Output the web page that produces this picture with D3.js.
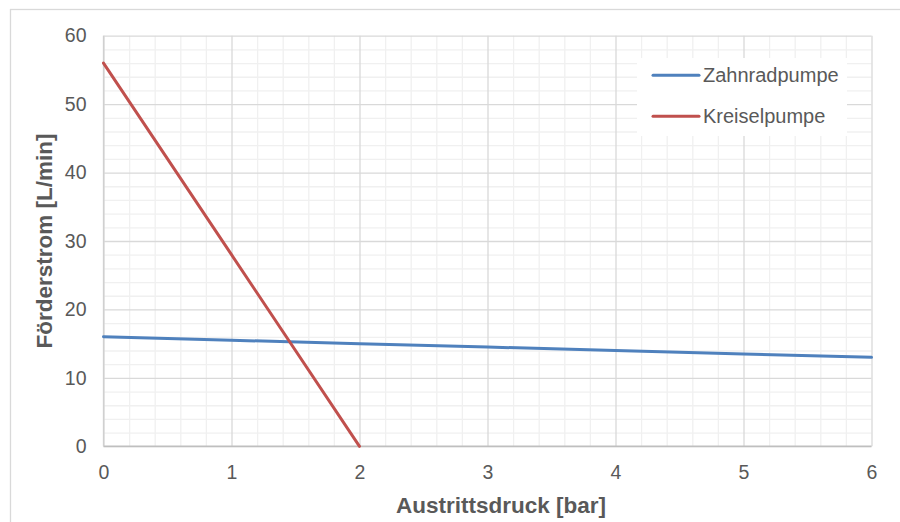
<!DOCTYPE html>
<html>
<head>
    <meta charset="utf-8">
    <title>Förderstrom</title>
    <script src="https://d3js.org/d3.v7.min.js"></script>
    <style>
        body { margin: 0; background: #fff; }
        text { font-family: "Liberation Sans", Arial, sans-serif; }
    </style>
</head>
<body>
    <div id="chart"></div>
    <script>
        // data
        const druck = [0, 1, 2, 3, 4, 5, 6];
        const zahnradpumpe = [16, 15.5, 15, 14.5, 14, 13.5, 13];
        const kreiselDruck = [0, 1, 2];
        const kreiselpumpe = [56, 28, 0];
        const xTicks = [0, 1, 2, 3, 4, 5, 6];
        const yTicks = [0, 10, 20, 30, 40, 50, 60];
        const seriesNames = ["Zahnradpumpe", "Kreiselpumpe"];
        const seriesColors = ["#4f81bd", "#c0504d"];

        const W = 900, H = 522;
        const plot = { left: 103.5, right: 871.5, top: 35.7, bottom: 446.3 };

        const svg = d3.select("#chart")
            .append("svg")
            .attr("width", W)
            .attr("height", H);

        // outer chart border (runs off the picture to the right/bottom)
        svg.append("rect")
            .attr("x", 10.5).attr("y", 9.5)
            .attr("width", 990).attr("height", 600)
            .attr("fill", "none")
            .attr("stroke", "#d9d9d9")
            .attr("stroke-width", 1.3);

        const x = d3.scaleLinear().domain([0, 6]).range([plot.left, plot.right]);
        const y = d3.scaleLinear().domain([0, 60]).range([plot.bottom, plot.top]);

        // minor grid
        const minorX = d3.range(0, 30).map(i => i * 0.2).filter(v => Math.abs(v - Math.round(v)) > 1e-6);
        const minorY = d3.range(0, 30).map(i => i * 2).filter(v => v % 10 !== 0);
        svg.append("g")
            .call(d3.axisBottom(x).tickValues(minorX).tickSize(-(plot.bottom - plot.top)).tickFormat(""))
            .attr("transform", `translate(0,${plot.bottom})`)
            .call(g => g.select(".domain").remove())
            .call(g => g.selectAll("line").attr("stroke", "#f0f0f0").attr("stroke-width", 1.3));
        svg.append("g")
            .call(d3.axisLeft(y).tickValues(minorY).tickSize(-(plot.right - plot.left)).tickFormat(""))
            .attr("transform", `translate(${plot.left},0)`)
            .call(g => g.select(".domain").remove())
            .call(g => g.selectAll("line").attr("stroke", "#f0f0f0").attr("stroke-width", 1.3));

        // major grid
        svg.append("g")
            .call(d3.axisBottom(x).tickValues(xTicks).tickSize(-(plot.bottom - plot.top)).tickFormat(""))
            .attr("transform", `translate(0,${plot.bottom})`)
            .call(g => g.select(".domain").remove())
            .call(g => g.selectAll("line").attr("stroke", "#d9d9d9").attr("stroke-width", 1.3));
        svg.append("g")
            .call(d3.axisLeft(y).tickValues(yTicks).tickSize(-(plot.right - plot.left)).tickFormat(""))
            .attr("transform", `translate(${plot.left},0)`)
            .call(g => g.select(".domain").remove())
            .call(g => g.selectAll("line").attr("stroke", "#d9d9d9").attr("stroke-width", 1.3));

        // axis lines
        svg.append("line")
            .attr("x1", plot.left).attr("x2", plot.right)
            .attr("y1", plot.bottom).attr("y2", plot.bottom)
            .attr("stroke", "#bfbfbf").attr("stroke-width", 1.5);
        svg.append("line")
            .attr("x1", plot.left).attr("x2", plot.left)
            .attr("y1", plot.top).attr("y2", plot.bottom)
            .attr("stroke", "#d0d0d0").attr("stroke-width", 1.3);

        // tick labels
        svg.append("g")
            .attr("transform", `translate(0,${plot.bottom})`)
            .call(d3.axisBottom(x).tickValues(xTicks).tickSize(0).tickPadding(19).tickFormat(d3.format("d")))
            .call(g => g.select(".domain").remove())
            .call(g => g.selectAll("text")
                .attr("fill", "#595959")
                .style("font-size", "19.5px")
                .style("font-family", "'Liberation Sans', Arial, sans-serif"));
        svg.append("g")
            .attr("transform", `translate(${plot.left},0)`)
            .call(d3.axisLeft(y).tickValues(yTicks).tickSize(0).tickPadding(17).tickFormat(d3.format("d")))
            .call(g => g.select(".domain").remove())
            .call(g => g.selectAll("text")
                .attr("fill", "#595959")
                .style("font-size", "19.5px")
                .style("font-family", "'Liberation Sans', Arial, sans-serif"));

        // lines
        const line = d3.line().x(d => x(d[0])).y(d => y(d[1]));
        const series = [
            druck.map((d, i) => [d, zahnradpumpe[i]]),
            kreiselDruck.map((d, i) => [d, kreiselpumpe[i]])
        ];
        svg.append("g")
            .selectAll("path")
            .data(series)
            .enter()
            .append("path")
            .attr("d", line)
            .attr("fill", "none")
            .attr("stroke", (d, i) => seriesColors[i])
            .attr("stroke-width", 3)
            .attr("stroke-linecap", "round");

        // axis titles
        svg.append("text")
            .attr("x", 501)
            .attr("y", 512.5)
            .attr("text-anchor", "middle")
            .attr("fill", "#595959")
            .style("font-size", "22.5px")
            .style("font-weight", "bold")
            .text("Austrittsdruck [bar]");

        svg.append("text")
            .attr("transform", `translate(52,${(plot.top + plot.bottom) / 2}) rotate(-90)`)
            .attr("text-anchor", "middle")
            .attr("fill", "#595959")
            .style("font-size", "22.5px")
            .style("font-weight", "bold")
            .text("Förderstrom [L/min]");

        // legend
        const legend = svg.append("g");
        legend.append("rect")
            .attr("x", 637).attr("y", 58)
            .attr("width", 210).attr("height", 78)
            .attr("fill", "#fff");
        const items = legend.selectAll("g.item")
            .data(seriesNames)
            .enter()
            .append("g")
            .attr("class", "item")
            .attr("transform", (d, i) => `translate(653,${75.3 + i * 41})`);
        items.append("line")
            .attr("x1", 0).attr("x2", 46)
            .attr("stroke", (d, i) => seriesColors[i])
            .attr("stroke-width", 3)
            .attr("stroke-linecap", "round");
        items.append("text")
            .attr("x", 50)
            .attr("dy", "0.35em")
            .attr("fill", "#595959")
            .style("font-size", "20px")
            .text(d => d);
    </script>
</body>
</html>
